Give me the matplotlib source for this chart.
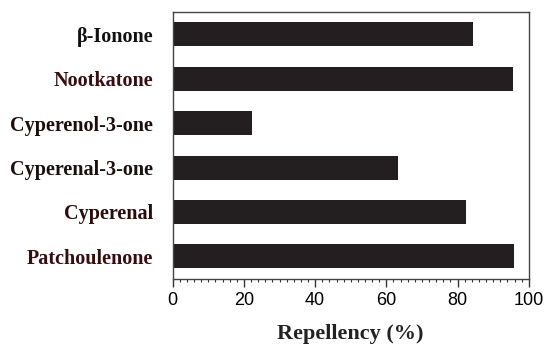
import matplotlib.pyplot as plt
from matplotlib.ticker import MultipleLocator

compounds = ['Patchoulenone', 'Cyperenal', 'Cyperenal-3-one',
             'Cyperenol-3-one', 'Nootkatone', '\u03b2-Ionone']
repellency = [95.9, 82.4, 63.4, 22.3, 95.5, 84.4]
label_colors = ['#3a0c0c', '#2e0a0a', '#1a1010', '#1c0c0c', '#3a0c0c', '#111111']

fig = plt.figure(figsize=(5.44, 3.44), dpi=100)
ax = fig.add_axes([0.3175, 0.19, 0.6545, 0.775])

ypos = list(range(len(compounds)))
ax.barh(ypos, repellency, height=0.54, color='#231f20', edgecolor='none')

ax.set_xlim(0, 100)
ax.set_ylim(-0.5, 5.5)
ax.xaxis.set_major_locator(MultipleLocator(20))
ax.xaxis.set_minor_locator(MultipleLocator(2))
ax.tick_params(axis='x', which='major', length=5.5, width=1, direction='out',
               labelsize=13, pad=4, color='#333333')
ax.tick_params(axis='x', which='minor', length=2.5, width=0.8, direction='out',
               color='#333333')
for t in ax.get_xticklabels():
    t.set_fontfamily('Liberation Sans')

ax.set_yticks(ypos)
ax.set_yticklabels(compounds, fontfamily='Liberation Serif', fontweight='bold',
                   fontsize=14.5)
for t, c in zip(ax.get_yticklabels(), label_colors):
    t.set_color(c)
ax.tick_params(axis='y', length=0, pad=14)

for s in ax.spines.values():
    s.set_color('#444444')
    s.set_linewidth(1.0)

ax.set_xlabel('Repellency (%)', fontfamily='Liberation Serif', fontweight='bold',
              fontsize=16, labelpad=11, color='#222222')

fig.savefig('out.png', dpi=100)
